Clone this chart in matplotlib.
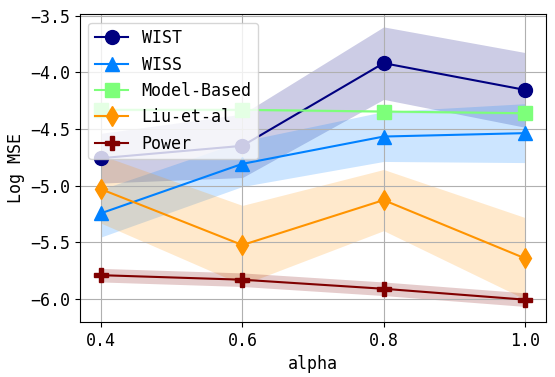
import numpy as np
import matplotlib
matplotlib.use("Agg")
import matplotlib.pyplot as plt

plt.rcParams['font.family'] = ['DejaVu Sans Mono']
plt.rcParams['font.size'] = 12

alpha = [0.4, 0.6, 0.8, 1.0]
labels = ["WIST", "WISS", "Model-Based", "Liu-et-al", "Power"]
means = {
    "WIST": [-4.757, -4.648, -3.918, -4.154],
    "WISS": [-5.243, -4.807, -4.566, -4.536],
    "Model-Based": [-4.33, -4.33, -4.345, -4.36],
    "Liu-et-al": [-5.031, -5.524, -5.127, -5.641],
    "Power": [-5.79, -5.83, -5.91, -6.006],
}
stds = {
    "WIST": [0.22, 0.28, 0.32, 0.33],
    "WISS": [0.21, 0.2, 0.22, 0.26],
    "Model-Based": [0.01, 0.01, 0.01, 0.01],
    "Liu-et-al": [0.3, 0.35, 0.27, 0.36],
    "Power": [0.06, 0.06, 0.06, 0.06],
}
markers = ['o', '^', 's', 'd', 'P']
colors = plt.cm.jet(np.linspace(0, 1, 5))

fig = plt.figure(figsize=(5.55, 3.77), dpi=100)
ax = fig.add_axes([0.144, 0.146, 0.84, 0.816])
for lab, m, c in zip(labels, markers, colors):
    mu = np.array(means[lab]); sd = np.array(stds[lab])
    ax.plot(alpha, mu, marker=m, color=c, label=lab, markersize=10, linewidth=1.5)
    ax.fill_between(alpha, mu - sd, mu + sd, color=c, alpha=0.2, linewidth=0)
ax.set_xticks([0.4, 0.6, 0.8, 1.0])
ax.set_ylim(-6.203, -3.487)
ax.grid(True)
ax.set_xlabel("alpha")
ax.set_ylabel("Log MSE")
ax.legend(loc="upper left")
fig.savefig("out.png", dpi=100)
